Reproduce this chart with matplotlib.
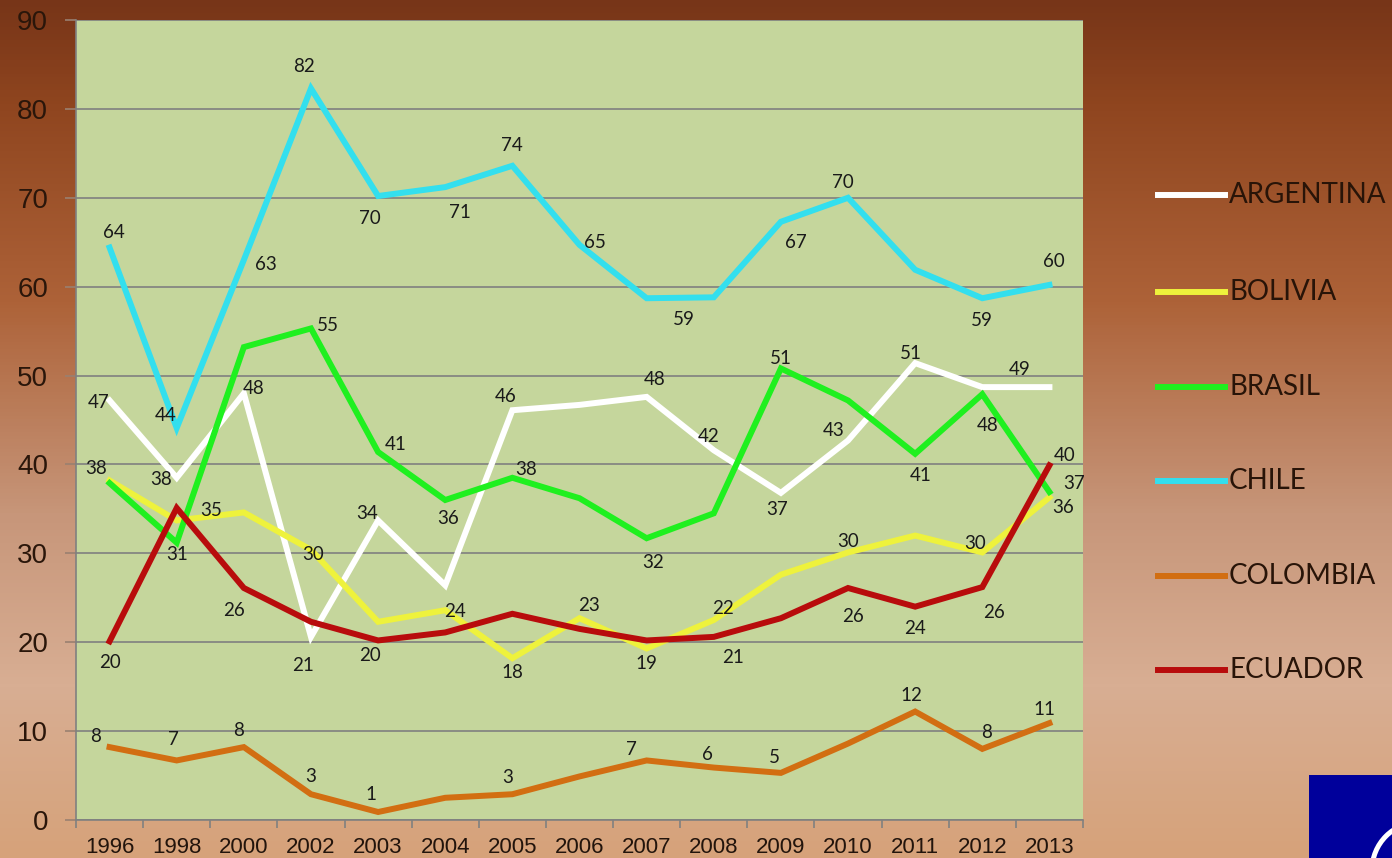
import numpy as np
import matplotlib
matplotlib.use("Agg")
import matplotlib.pyplot as plt
from matplotlib.lines import Line2D
from matplotlib.patches import Arc
from matplotlib.colors import LinearSegmentedColormap

# ---------------- data ----------------
years = ["1996", "1998", "2000", "2002", "2003", "2004", "2005", "2006",
         "2007", "2008", "2009", "2010", "2011", "2012", "2013"]
argentina = [47.2, 38.5, 48.0, 20.6, 33.7, 26.4, 46.1, 46.7, 47.6, 41.6, 36.8, 42.7, 51.4, 48.7, 48.7]
bolivia = [38.2, 33.7, 34.6, 30.4, 22.3, 23.6, 18.2, 22.7, 19.3, 22.5, 27.6, 30.1, 32.0, 30.1, 36.3]
brasil = [37.9, 31.2, 53.2, 55.3, 41.4, 36.0, 38.5, 36.2, 31.7, 34.5, 50.8, 47.2, 41.2, 47.9, 36.9]
chile = [64.4, 44.1, 63.0, 82.3, 70.2, 71.2, 73.6, 64.7, 58.7, 58.8, 67.3, 70.0, 61.9, 58.7, 60.2]
colombia = [8.2, 6.7, 8.2, 2.9, 0.9, 2.5, 2.9, 4.9, 6.7, 5.9, 5.3, 8.6, 12.2, 8.0, 10.9]
ecuador = [20.1, 35.1, 26.1, 22.3, 20.2, 21.1, 23.2, 21.5, 20.2, 20.6, 22.7, 26.1, 24.0, 26.2, 39.9]

names = ["ARGENTINA", "BOLIVIA", "BRASIL", "CHILE", "COLOMBIA", "ECUADOR"]
series = [argentina, bolivia, brasil, chile, colombia, ecuador]
colors = ["#ffffff", "#eef23c", "#1ff01f", "#33dfee", "#d26e12", "#b80c0c"]

# data-label placement (index -> pixel offset dx, dy)
label_offsets = [
    {0: (-11, -2), 1: (-16, -2), 2: (10, 5), 3: (-8, -29), 4: (-11, 7), 6: (-7, 14),
     8: (8, 17), 9: (-5, 14), 10: (-4, -17), 11: (-14, 10), 12: (-4, 10), 14: (-30, 18)},
    {0: (-13, 12), 2: (-33, 2), 3: (2, -5), 5: (10, -1), 6: (0, -14), 7: (9, 13),
     8: (0, -15), 9: (9, 11), 11: (0, 11), 13: (-7, 9), 14: (14, -10)},
    {1: (0, -12), 3: (17, 3), 4: (18, 7), 5: (3, -18), 6: (14, 8), 8: (6, -24),
     10: (0, 10), 12: (6, -22), 13: (5, -31), 14: (25, 8)},
    {0: (4, 15), 1: (-11, 12), 2: (22, -4), 3: (-7, 22), 4: (-8, -22), 5: (15, -25),
     6: (0, 20), 7: (15, 2), 9: (-30, -22), 10: (15, -21), 11: (-5, 15), 13: (0, -22), 14: (4, 23)},
    {0: (-14, 11), 1: (-3, 21), 2: (-5, 17), 3: (0, 18), 4: (-7, 17), 6: (-5, 17),
     8: (-15, 11), 9: (-6, 13), 10: (-7, 15), 12: (-4, 16), 13: (4, 16), 14: (-5, 14)},
    {0: (0, -21), 2: (-10, -22), 4: (-8, -15), 9: (19, -21), 11: (5, -28), 12: (0, -22),
     13: (12, -25), 14: (15, 10)},
]

W, H = 1392, 858
fig = plt.figure(figsize=(W / 100, H / 100), dpi=100)

# background gradient
bg = fig.add_axes([0, 0, 1, 1], zorder=-10)
cmap = LinearSegmentedColormap.from_list(
    "bg", [(0.0, "#773518"), (0.12, "#8f451f"), (0.35, "#ad6238"),
           (0.6, "#c7967a"), (0.8, "#d8ae93"), (1.0, "#d6a27a")])
grad = np.linspace(0, 1, 256).reshape(-1, 1)
bg.imshow(grad, aspect="auto", cmap=cmap, extent=[0, 1, 0, 1], origin="upper")
bg.set_axis_off()

ax = fig.add_axes([76 / W, 1 - 820 / H, (1083 - 76) / W, (820 - 20) / H])
ax.set_facecolor("#c5d69c")
x = np.arange(len(years))

for s, (vals, col) in enumerate(zip(series, colors)):
    ax.plot(x, vals, color=col, lw=4.3, solid_joinstyle="miter", zorder=3 + s)

for s, vals in enumerate(series):
    for i, (dx, dy) in label_offsets[s].items():
        ax.annotate(f"{round(vals[i])}", (x[i], vals[i]), xytext=(dx, dy),
                    textcoords="offset pixels", ha="center", va="center",
                    fontsize=13.5, color="#1a1a1a", family="Lato", zorder=20)

ax.set_ylim(0, 90)
ax.set_xlim(-0.5, len(years) - 0.5)
ax.set_yticks(np.arange(0, 91, 10))
ax.yaxis.grid(True, color="#808080", lw=1.2)
ax.set_axisbelow(True)
ax.set_xticks(x)
ax.set_xticklabels(years)
ax.set_xticks(np.arange(-0.5, len(years), 1), minor=True)
ax.tick_params(axis="x", which="major", length=0, pad=12, labelsize=16, labelcolor="#22140c")
ax.tick_params(axis="x", which="minor", length=6, color="#808080", width=1.2)
ax.tick_params(axis="y", length=8, color="#9a8070", width=1.2, pad=12,
               labelsize=20, labelcolor="#2a160a")
for lab in ax.get_xticklabels() + ax.get_yticklabels():
    lab.set_family("Liberation Sans")
for side in ["top", "right"]:
    ax.spines[side].set_visible(False)
for side in ["left", "bottom"]:
    ax.spines[side].set_color("#808080")
    ax.spines[side].set_linewidth(1.2)

# legend (manual, matching the slide layout)
leg_y = [195, 292, 387, 481, 576, 670]
for name, col, yy in zip(names, colors, leg_y):
    fy = 1 - yy / H
    fig.add_artist(Line2D([1158 / W, 1225 / W], [fy, fy], color=col, lw=4.3,
                          transform=fig.transFigure))
    fig.text(1229 / W, fy, name, fontsize=20, family="Lato", color="#281408",
             va="center", ha="left")

# logo corner
lg = fig.add_axes([1309 / W, 0, (W - 1309) / W, 83 / H])
lg.set_facecolor("#00009b")
lg.set_xlim(0, 83)
lg.set_ylim(0, 83)
lg.set_xticks([])
lg.set_yticks([])
for sp in lg.spines.values():
    sp.set_visible(False)
lg.add_patch(Arc((111, -12), 96, 96, theta1=90, theta2=180, color="white", lw=3.6))

fig.savefig("out.png", dpi=100)
